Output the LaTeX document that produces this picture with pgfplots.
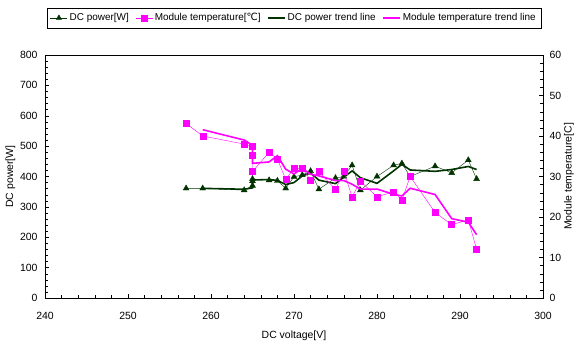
\documentclass[border=0pt]{standalone}
\usepackage{pgfplots}
\pgfplotsset{compat=1.18}
\usepackage{fontspec}
\setmainfont{Liberation Sans}
\newfontfamily\dejavu{DejaVu Sans}
\definecolor{dkgreen}{RGB}{0,51,0}
\definecolor{mag}{RGB}{255,0,255}
\begin{document}
\begin{tikzpicture}
\pgfplotsset{
  every axis/.append style={
    scale only axis, width=498bp, height=243bp,
    font=\fontsize{10.5}{12}\selectfont,
    tick align=inside, tick style={black, thin},
    /pgf/number format/assume math mode=true,
    axis line style={black, thin},
  }
}
\begin{axis}[
  xmin=240, xmax=300, ymin=0, ymax=800,
  xtick={240,250,...,300}, minor x tick num=4,
  ytick={0,100,...,800}, minor y tick num=4,
  xtick pos=bottom, ytick pos=left,
  xlabel={DC voltage[V]}, ylabel={DC power[W]},
  xlabel style={yshift=-4bp},
  ylabel style={yshift=-2bp},
  xticklabel style={yshift=-11bp},
  yticklabel style={xshift=-4bp},
  scaled ticks=false,
]
\addplot[dkgreen, thin, mark=triangle*, mark size=3.4bp, mark options={solid}] coordinates {
(257,361)(259,361)(264,355)(265,370)(265,385)(265,392)(267,388)(268,386)(269,361)(270,399)(271,405)(272,418)(273,358)(275,395)(276,400)(277,437)(278,355)(280,400)(282,437)(283,443)(284,400)(287,434)(289,412)(291,454)(292,392)
};
\addplot[dkgreen, line width=1.6bp] coordinates {
(259,361)(264,358)(265,362.5)(265,377.5)(265,388.5)(267,390)(268,387)(269,373.5)(270,380)(271,402)(272,411.5)(273,388)(275,376.5)(276,397.5)(277,418.5)(278,396)(280,377.5)(282,418.5)(283,440)(284,421.5)(287,417)(289,423)(291,433)(292,423)
};
\end{axis}
\begin{axis}[
  xmin=240, xmax=300, ymin=0, ymax=60,
  ytick={0,10,...,60}, minor y tick num=4,
  axis y line*=right, axis x line=none,
  yticklabel style={xshift=3bp},
  ylabel={Module temperature[C]},
  ylabel style={yshift=4bp},
  legend columns=4,
  legend style={at={(0.5,1)}, anchor=south, yshift=27bp, draw=black, thin,
    font=\fontsize{10}{12}\selectfont, inner sep=3.5bp,
    /tikz/every even column/.append style={column sep=4.5bp}},
  legend cell align=left,
]
\addlegendimage{dkgreen, thin, mark=triangle*, mark size=3bp}
\addlegendentry{DC power[W]}
\addplot[mag, thin, mark=square*, mark size=3bp] coordinates {
(257,43.1)(259,40.0)(264,38.0)(265,37.4)(265,35.3)(265,31.2)(267,36.0)(268,34.3)(269,29.3)(270,32.0)(271,32.0)(272,29.1)(273,31.2)(275,26.8)(276,31.2)(277,25.0)(278,28.8)(280,25.0)(282,26.2)(283,24.2)(284,30.0)(287,21.1)(289,18.1)(291,19.3)(292,12.0)
};
\addlegendentry{Module temperature[{\dejavu\char"2103}]}
\addlegendimage{dkgreen, line width=1.6bp}
\addlegendentry{DC power trend line}
\addplot[mag, line width=1.6bp] coordinates {
(259,41.55)(264,39.0)(265,37.7)(265,36.35)(265,33.25)(267,33.6)(268,35.15)(269,31.8)(270,30.65)(271,32.0)(272,30.55)(273,30.15)(275,29.0)(276,29.0)(277,28.1)(278,26.9)(280,26.9)(282,25.6)(283,25.2)(284,27.1)(287,25.55)(289,19.6)(291,18.7)(292,15.65)
};
\addlegendentry{Module temperature trend line}
\end{axis}
\pgfresetboundingbox
\path (-45bp,-46bp) rectangle (535bp,298bp);
\end{tikzpicture}
\end{document}
